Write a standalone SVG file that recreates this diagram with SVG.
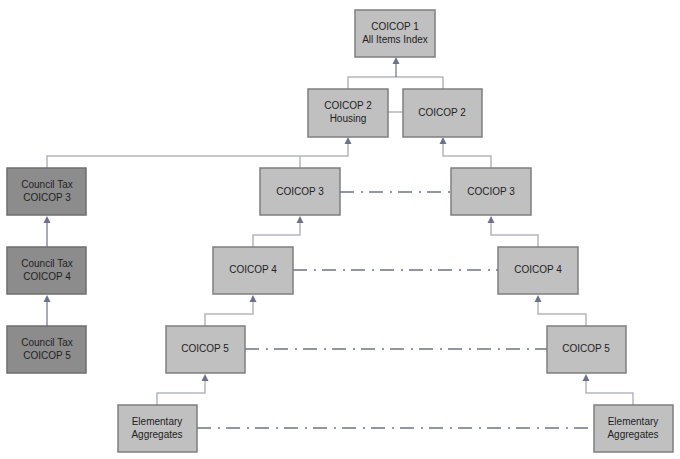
<svg xmlns="http://www.w3.org/2000/svg" width="680" height="459" viewBox="0 0 680 459">
<defs>
<style>
.box{fill:#c0c0c0;stroke:#7f7f7f;stroke-width:1.5}
.ct{fill:#8c8c8c;stroke:#6e6e6e;stroke-width:1.5}
text{font-family:"Liberation Sans",Arial,sans-serif;font-size:10px;fill:#222;text-anchor:middle}
.lt{fill:none;stroke:#b4b6bf;stroke-width:1.5}
.dk{fill:none;stroke:#6d7386;stroke-width:1.2}
.dd{fill:none;stroke:#6d7386;stroke-width:1.5;stroke-dasharray:14 7 2 6}
.ah{fill:#6d7386}
</style>
</defs>
<rect width="680" height="459" fill="#fff"/>
<g id="connectors">
<polyline class="lt" points="348,89 348,77 443,77 443,89"/>
<line class="dk" x1="396" y1="77" x2="396" y2="60"/>
<path class="ah" d="M396 57 L399.5 64 L392.5 64 Z"/>
<line class="lt" x1="388" y1="112" x2="403" y2="112"/>
<polyline class="lt" points="47,168 47,156 348,156 348,140"/>
<line class="lt" x1="300" y1="168" x2="300" y2="156"/>
<path class="ah" d="M348 137 L351.5 144 L344.5 144 Z"/>
<polyline class="lt" points="491,168 491,156 443,156 443,140"/>
<path class="ah" d="M443 137 L446.5 144 L439.5 144 Z"/>
<line class="dk" x1="47" y1="247" x2="47" y2="220"/>
<path class="ah" d="M47 216 L50.5 223 L43.5 223 Z"/>
<line class="dk" x1="47" y1="326" x2="47" y2="299"/>
<path class="ah" d="M47 295 L50.5 302 L43.5 302 Z"/>
<polyline class="lt" points="253,247 253,235 300,235 300,221"/>
<path class="ah" d="M300 216 L303.5 223 L296.5 223 Z"/>
<polyline class="lt" points="538,247 538,235 491,235 491,221"/>
<path class="ah" d="M491 216 L494.5 223 L487.5 223 Z"/>
<polyline class="lt" points="205,326 205,314 253,314 253,300"/>
<path class="ah" d="M253 295 L256.5 302 L249.5 302 Z"/>
<polyline class="lt" points="586,326 586,314 538,314 538,300"/>
<path class="ah" d="M538 295 L541.5 302 L534.5 302 Z"/>
<polyline class="lt" points="157,405 157,393 205,393 205,379"/>
<path class="ah" d="M205 374 L208.5 381 L201.5 381 Z"/>
<polyline class="lt" points="633,405 633,393 586,393 586,379"/>
<path class="ah" d="M586 374 L589.5 381 L582.5 381 Z"/>
<line class="dd" x1="340" y1="192" x2="451" y2="192"/>
<line class="dd" x1="293" y1="270" x2="498" y2="270"/>
<line class="dd" x1="245" y1="349" x2="547" y2="349"/>
<line class="dd" x1="197" y1="428" x2="594" y2="428"/>
</g>
<g id="coicop1"><rect class="box" x="355" y="10" width="80" height="47"/><text x="395" y="30">COICOP 1</text><text x="395" y="43">All Items Index</text></g>
<g id="coicop2-housing"><rect class="box" x="308" y="89" width="80" height="48"/><text x="348" y="109">COICOP 2</text><text x="348" y="122">Housing</text></g>
<g id="coicop2-right"><rect class="box" x="403" y="89" width="79" height="48"/><text x="442" y="116">COICOP 2</text></g>
<g id="ct3"><rect class="ct" x="7" y="168" width="79" height="47"/><text x="47" y="188">Council Tax</text><text x="47" y="201">COICOP 3</text></g>
<g id="ct4"><rect class="ct" x="7" y="247" width="79" height="47"/><text x="47" y="267">Council Tax</text><text x="47" y="280">COICOP 4</text></g>
<g id="ct5"><rect class="ct" x="7" y="326" width="79" height="47"/><text x="47" y="346">Council Tax</text><text x="47" y="359">COICOP 5</text></g>
<g id="coicop3-left"><rect class="box" x="260" y="168" width="80" height="47"/><text x="300" y="195">COICOP 3</text></g>
<g id="coicop3-right"><rect class="box" x="451" y="168" width="80" height="47"/><text x="491" y="195">COCIOP 3</text></g>
<g id="coicop4-left"><rect class="box" x="213" y="247" width="80" height="47"/><text x="253" y="273">COICOP 4</text></g>
<g id="coicop4-right"><rect class="box" x="498" y="247" width="80" height="47"/><text x="538" y="273">COICOP 4</text></g>
<g id="coicop5-left"><rect class="box" x="166" y="326" width="79" height="47"/><text x="205" y="352">COICOP 5</text></g>
<g id="coicop5-right"><rect class="box" x="547" y="326" width="79" height="47"/><text x="586" y="352">COICOP 5</text></g>
<g id="ea-left"><rect class="box" x="118" y="405" width="79" height="47"/><text x="157" y="425">Elementary</text><text x="157" y="438">Aggregates</text></g>
<g id="ea-right"><rect class="box" x="594" y="405" width="79" height="47"/><text x="633" y="425">Elementary</text><text x="633" y="438">Aggregates</text></g>
</svg>
